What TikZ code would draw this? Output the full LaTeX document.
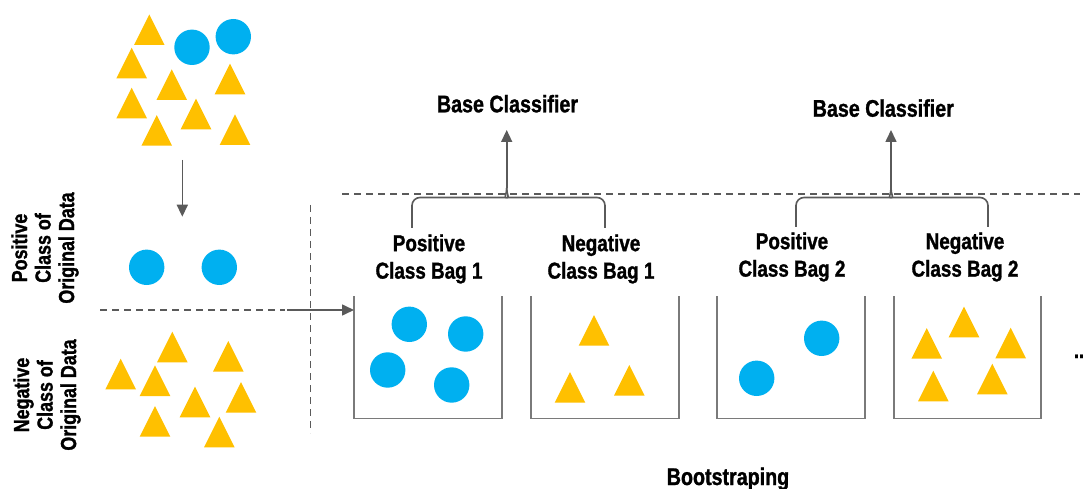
\documentclass[tikz,border=0pt]{standalone}
\usepackage{fontspec}
\setmainfont{Liberation Sans}[FakeStretch=0.82, BoldFeatures={FakeBold=1.2}]
\usetikzlibrary{arrows.meta}
\definecolor{dotblue}{HTML}{00B0F0}
\definecolor{triyellow}{HTML}{FFC000}
\definecolor{linegray}{HTML}{5A5A5A}
\definecolor{baggray}{HTML}{7A7A7A}

\begin{document}
\begin{tikzpicture}[x=1pt,y=-1pt,
  yellowtri/.pic={\fill[triyellow] (-15.3,0) -- (0,-30.6) -- (15.3,0) -- cycle;},
  bluedot/.style={fill=dotblue},
  sep/.style={draw=linegray, line width=1.9pt, dash pattern=on 7pt off 5pt},
  bag/.style={draw=baggray, line width=1.8pt},
  flow/.style={draw=linegray, line width=1.6pt, -{Triangle[length=12pt,width=11pt]}},
  brace/.style={draw=linegray, line width=1.6pt, rounded corners=8pt},
  lbl/.style={font=\bfseries\fontsize{23}{27.5}\selectfont, align=center, inner sep=0pt},
  side/.style={font=\bfseries\fontsize{21.8}{23.5}\selectfont, align=center, inner sep=0pt, rotate=90},
  title/.style={font=\bfseries\fontsize{24}{28}\selectfont, inner sep=0pt, anchor=base},
]
\useasboundingbox[fill=white] (0,0) rectangle (1087,489);

% ---- original data, mixed ----
\foreach \p in {(149.3,45),(131.7,78.3),(171.7,100),(230,94.3),(131.7,118.3),(196,129.3),(156.7,145.7),(235,145)}
  \pic at \p {yellowtri};
\foreach \p in {(192,47.3),(233.3,36.7)}
  \fill[bluedot] \p circle[radius=17.7pt];

\coordinate (splitTop) at (182.3,160);
\coordinate (splitBot) at (182.3,216.7);
\draw[flow] (splitTop) -- (splitBot);

% ---- positive class ----
\foreach \p in {(146.7,267.3),(219.3,267.3)}
  \fill[bluedot] \p circle[radius=17.7pt];

% ---- negative class ----
\foreach \p in {(172.3,362.3),(228.3,371.7),(120.7,389.3),(155,396),(195,417.3),(241,412.7),(155,436.7),(219.3,447.3)}
  \pic at \p {yellowtri};

\node[side] (poslab) at (45,248) {Positive\\Class of\\Original Data};
\node[side] (neglab) at (47,395) {Negative\\Class of\\Original Data};

% ---- separators ----
\coordinate (hsA) at (100,310);
\coordinate (hsB) at (285,310);
\draw[sep] (hsA) -- (hsB);
\coordinate (vsA) at (310.5,205);
\coordinate (vsB) at (310.5,433);
\draw[sep] (vsA) -- (vsB);
\coordinate (tsA) at (342,194.3);
\coordinate (tsB) at (1080,194.3);
\draw[sep] (tsA) -- (tsB);

% ---- bags ----
\def\bagtop{296}
\def\bagbot{418.5}
\foreach \l/\r/\n in {354/501.7/1, 530.7/679/2, 717.3/865/3, 894.3/1041/4}{
  \coordinate (bag\n) at (\l,310);
  \draw[bag] (\l,\bagtop) -- (\l,\bagbot) -- (\r,\bagbot) -- (\r,\bagtop);
}
\coordinate (feed) at (287,310);
\draw[flow] (feed) -- (bag1);

\foreach \p in {(409.3,324.3),(465.7,334),(387.7,370),(451.7,385),(821.7,338.3),(756.7,378.3)}
  \fill[bluedot] \p circle[radius=17.7pt];
\foreach \p in {(594,345.7),(570,402.7),(629.3,395.7),(964,337.3),(926.7,358.7),(1010.7,358.3),(933.3,401.3),(992.3,394.3)}
  \pic at \p {yellowtri};

\node[lbl] (pb1) at (429,259) {Positive\\Class Bag 1};
\node[lbl] (nb1) at (601,259) {Negative\\Class Bag 1};
\node[lbl] (pb2) at (792,257) {Positive\\Class Bag 2};
\node[lbl] (nb2) at (965,257) {Negative\\Class Bag 2};

\node[font=\bfseries\fontsize{22}{24}\selectfont, anchor=base, inner sep=0pt] (more) at (1079,358) {..};

% ---- braces and classifiers ----
\node[title] (bc1) at (507.5,112.3) {Base Classifier};
\node[title] (bc2) at (883.3,116.7) {Base Classifier};

\coordinate (legL1) at (412,228);
\coordinate (legR1) at (605,228);
\coordinate (cusp1) at (506.7,188);
\coordinate (tip1) at (506.7,130);
\draw[brace] (legL1) -- (412,197.5) -- (498,197.5) .. controls (504,197.5) and (506.7,194) .. (cusp1);
\draw[brace] (legR1) -- (605,197.5) -- (515.4,197.5) .. controls (509.4,197.5) and (506.7,194) .. (cusp1);
\draw[flow] (cusp1) -- (tip1);

\coordinate (legL2) at (796,227);
\coordinate (legR2) at (988,227);
\coordinate (cusp2) at (891,188);
\coordinate (tip2) at (891,130);
\draw[brace] (legL2) -- (796,197.5) -- (882.3,197.5) .. controls (888.3,197.5) and (891,194) .. (cusp2);
\draw[brace] (legR2) -- (988,197.5) -- (899.7,197.5) .. controls (893.7,197.5) and (891,194) .. (cusp2);
\draw[flow] (cusp2) -- (tip2);

\node[title] (boot) at (728,485) {Bootstraping};
\end{tikzpicture}
\end{document}
